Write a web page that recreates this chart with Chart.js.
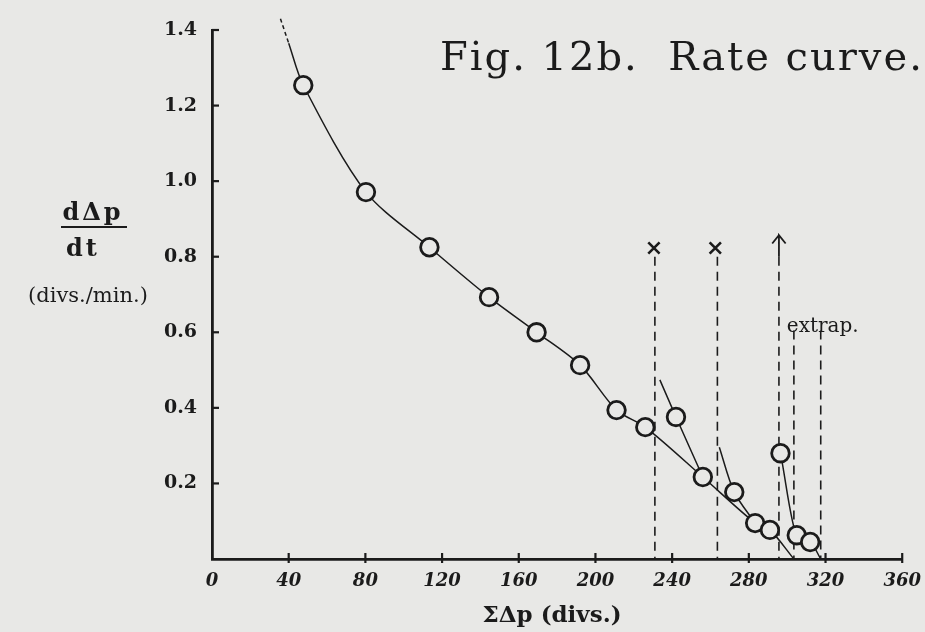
<!DOCTYPE html>
<html><head><meta charset="utf-8">
<script src="https://cdn.jsdelivr.net/npm/chart.js@4.4.1/dist/chart.umd.min.js"></script>
<style>html,body{margin:0;padding:0;background:#e8e8e6;}canvas{display:block;}</style>
</head><body>
<canvas id="c" width="925" height="632"></canvas>
<script>
// ---- data ----
const xTicks = [0, 40, 80, 120, 160, 200, 240, 280, 320, 360];
const xTickLabels = ['0', '40', '80', '120', '160', '200', '240', '280', '320', '360'];
const yTicks = [0.2, 0.4, 0.6, 0.8, 1.0, 1.2, 1.4];
const yTickLabels = ['0.2', '0.4', '0.6', '0.8', '1.0', '1.2', '1.4'];

// observed points (open circles)
const circleX = [47.6, 80.3, 113.4, 144.5, 169.3, 192, 211, 226, 242, 256, 272.4, 283.3, 291, 296.5, 305, 312];
const circleY = [1.254, 0.971, 0.825, 0.693, 0.600, 0.513, 0.394, 0.349, 0.376, 0.217, 0.177, 0.095, 0.077, 0.280, 0.063, 0.045];

// main rate curve
const mainX = [40, 47.6, 80.3, 113.4, 144.5, 169.3, 192, 211, 226, 256, 283.3, 291, 303.5];
const mainY = [1.365, 1.254, 0.971, 0.825, 0.693, 0.600, 0.513, 0.394, 0.349, 0.217, 0.095, 0.077, 0];
// dashed continuation above the top
const mainTopX = [35.7, 40];
const mainTopY = [1.43, 1.365];

// branch curves
const branch1X = [233.6, 242, 256];
const branch1Y = [0.474, 0.376, 0.217];
const branch2X = [264.6, 272.4, 283.3];
const branch2Y = [0.296, 0.177, 0.095];
const branch3X = [296.5, 305, 312, 317.5];
const branch3Y = [0.280, 0.063, 0.045, 0];

// vertical dashed markers
const dashX = [231, 263.6, 295.7, 303.5, 317.5];
const dashTop = [0.80, 0.80, 0.80, 0.605, 0.605];

// cross marks
const crossX = [230.5, 262.5];
const crossY = [0.823, 0.823];

// arrow on the third marker
const arrowX = [292.2, 295.7, 299.2, 295.7, 295.7];
const arrowY = [0.835, 0.857, 0.835, 0.857, 0.80];

const FG = '#1b1b1b';
const BG = '#e8e8e6';

const pts = (xs, ys) => xs.map((x, i) => ({x: x, y: ys[i]}));

const lineDS = (xs, ys, extra) => Object.assign({
  data: pts(xs, ys), showLine: true, borderColor: FG, borderWidth: 1.5,
  pointRadius: 0, fill: false, order: 2, tension: 0.3
}, extra || {});

const datasets = [];
datasets.push({
  data: pts(circleX, circleY), showLine: false, pointRadius: 8.8, pointBorderWidth: 2.8,
  pointBorderColor: FG, pointBackgroundColor: BG, order: 0
});
datasets.push({
  data: pts(crossX, crossY), showLine: false, pointStyle: 'crossRot', pointRadius: 8,
  pointBorderWidth: 2.6, pointBorderColor: FG, order: 0
});
datasets.push(lineDS(mainX, mainY, {tension: 0.3}));
datasets.push(lineDS(mainTopX, mainTopY, {borderDash: [4, 3], clip: false, tension: 0}));
datasets.push(lineDS(branch1X, branch1Y));
datasets.push(lineDS(branch2X, branch2Y));
datasets.push(lineDS(branch3X, branch3Y, {cubicInterpolationMode: 'monotone'}));
datasets.push(lineDS(arrowX, arrowY, {tension: 0, borderWidth: 1.8}));
dashX.forEach((x, i) => {
  datasets.push(lineDS([x, x], [dashTop[i], 0], {borderDash: [9, 6], order: 3, tension: 0, borderWidth: 1.6}));
});

const paper = {
  id: 'paper',
  beforeDraw(chart) {
    const ctx = chart.ctx;
    ctx.save();
    ctx.fillStyle = BG;
    ctx.fillRect(0, 0, chart.width, chart.height);
    ctx.restore();
  }
};

const innerTicks = {
  id: 'innerTicks',
  afterDraw(chart) {
    const ctx = chart.ctx, xs = chart.scales.x, ys = chart.scales.y;
    const x0 = xs.getPixelForValue(0), y0 = ys.getPixelForValue(0);
    ctx.save();
    ctx.strokeStyle = FG;
    ctx.lineWidth = 2.2;
    yTicks.forEach(v => {
      const py = ys.getPixelForValue(v);
      ctx.beginPath(); ctx.moveTo(x0, py); ctx.lineTo(x0 + 7, py); ctx.stroke();
    });
    xTicks.slice(1).forEach(v => {
      const px = xs.getPixelForValue(v);
      ctx.beginPath(); ctx.moveTo(px, y0 - 6); ctx.lineTo(px, y0 + 4); ctx.stroke();
    });
    ctx.restore();
  }
};

const texts = {
  id: 'texts',
  afterDraw(chart) {
    const ctx = chart.ctx, xs = chart.scales.x, ys = chart.scales.y;
    ctx.save();
    ctx.fillStyle = FG;
    ctx.textBaseline = 'alphabetic';
    // title
    ctx.font = '40px "DejaVu Serif"';
    ctx.textAlign = 'left';
    try { ctx.letterSpacing = '2px'; } catch (e) {}
    ctx.fillText('Fig. 12b.  Rate curve.', 440, 70);
    // y label (fraction)
    ctx.textAlign = 'center';
    ctx.font = 'bold 24px "DejaVu Serif"';
    try { ctx.letterSpacing = '3px'; } catch (e) {}
    ctx.fillText('dΔp', 93, 220);
    ctx.fillText('dt', 83, 256);
    try { ctx.letterSpacing = '0px'; } catch (e) {}
    ctx.strokeStyle = FG; ctx.lineWidth = 2.2;
    ctx.beginPath(); ctx.moveTo(61, 227); ctx.lineTo(127, 227); ctx.stroke();
    ctx.font = '21px "DejaVu Serif"';
    ctx.fillText('(divs./min.)', 88, 302);
    // x label
    ctx.font = 'bold 23px "DejaVu Serif"';
    ctx.fillText('ΣΔp (divs.)', 552, 622);
    // extrap.
    ctx.textAlign = 'left';
    ctx.font = '20px "DejaVu Serif"';
    ctx.fillText('extrap.', xs.getPixelForValue(299.8), ys.getPixelForValue(0.60));
    ctx.restore();
  }
};

new Chart(document.getElementById('c'), {
  type: 'scatter',
  data: {datasets: datasets},
  options: {
    responsive: false,
    devicePixelRatio: 1,
    animation: false,
    layout: {padding: {top: 30, right: 19, left: 0, bottom: 0}},
    plugins: {legend: {display: false}, tooltip: {enabled: false}},
    scales: {
      x: {
        type: 'linear', min: 0, max: 360,
        afterBuildTicks: s => { s.ticks = xTicks.map(v => ({value: v})); },
        afterFit: s => { s.height = 73; },
        grid: {display: false},
        border: {display: true, color: FG, width: 2.8},
        ticks: {
          autoSkip: false, maxRotation: 0, padding: 4, color: FG,
          font: {family: 'DejaVu Serif', size: 18, style: 'italic', weight: 'bold'},
          callback: (v, i) => xTickLabels[i]
        }
      },
      y: {
        type: 'linear', min: 0, max: 1.4,
        afterBuildTicks: s => { s.ticks = yTicks.map(v => ({value: v})); },
        afterFit: s => { s.width = 212; },
        grid: {display: false},
        border: {display: true, color: FG, width: 2.8},
        ticks: {
          autoSkip: false, padding: 7, color: FG,
          font: {family: 'DejaVu Serif', size: 19, weight: 'bold'},
          callback: (v, i) => yTickLabels[i]
        }
      }
    }
  },
  plugins: [paper, innerTicks, texts]
});
</script></body></html>
